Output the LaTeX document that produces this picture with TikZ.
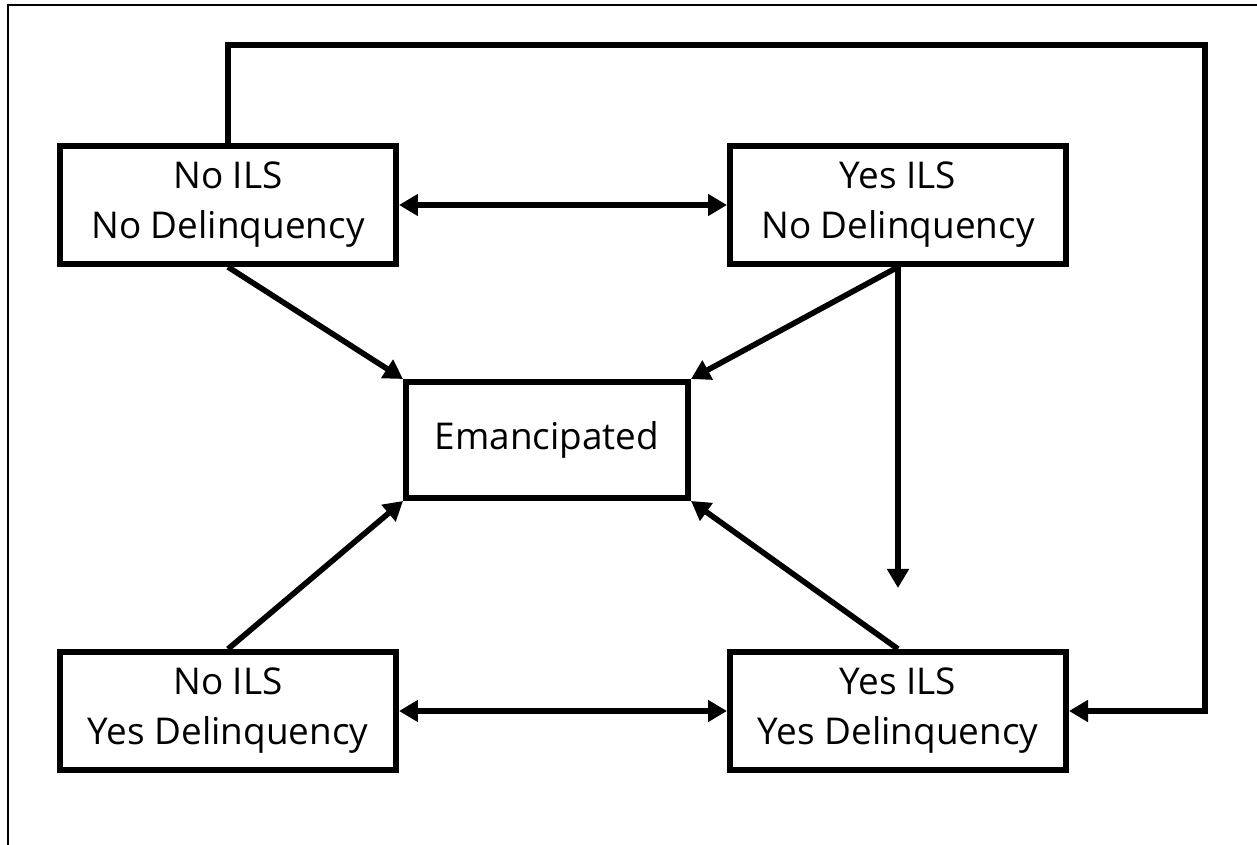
\documentclass[tikz,border=0pt]{standalone}
\usepackage{fontspec}
\setmainfont{Open Sans}
\usepackage{tikz}
\usetikzlibrary{arrows.meta}

\begin{document}
\begin{tikzpicture}[
	state/.style={draw, line width=3.4pt, minimum width=6.72cm, minimum height=2.36cm,
		align=center, font=\fontsize{21}{28.5}\selectfont, inner sep=0pt},
	link/.style={line width=3.2pt, -{Triangle[length=0.38cm,width=0.42cm]}},
	both/.style={line width=3.2pt, {Triangle[length=0.38cm,width=0.42cm]}-{Triangle[length=0.38cm,width=0.42cm]}}
]

\useasboundingbox (0,0) rectangle (25.14,-16.9);
\draw[line width=0.9pt] (25.14,-0.1)--(0.16,-0.1)--(0.16,-16.9);

\node[state] (nono)   at ( 4.56, -4.10) {No ILS\\No Delinquency};
\node[state] (yesno)  at (17.96, -4.10) {Yes ILS\\No Delinquency};
\node[state, minimum width=5.64cm, minimum height=2.32cm] (eman) at (10.94, -8.80) {Emancipated};
\node[state] (noyes)  at ( 4.56,-14.22) {No ILS\\Yes Delinquency};
\node[state] (yesyes) at (17.96,-14.22) {Yes ILS\\Yes Delinquency};

\coordinate (corner) at (24.1,-0.9);
\coordinate (drop)   at (17.96,-11.76);

\draw[both] (nono) -- (yesno);
\draw[both] (noyes) -- (yesyes);

\draw[link] (nono.south)   -- (eman.north west);
\draw[link] (yesno.south)  -- (eman.north east);
\draw[link] (noyes.north)  -- (eman.south west);
\draw[link] (yesyes.north) -- (eman.south east);
\draw[link] (yesno.south)  -- (drop);

% long way round
\draw[link] (nono.north) |- (corner) |- (yesyes.east);

\end{tikzpicture}
\end{document}
